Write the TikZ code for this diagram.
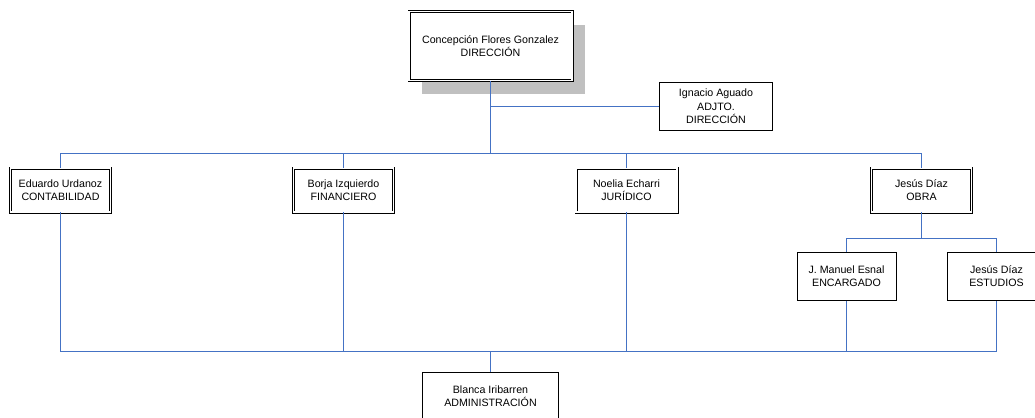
\documentclass[tikz,border=0pt]{standalone}
\usepackage{fontspec}
\setmainfont{Liberation Sans}
\usetikzlibrary{shadows}
\definecolor{linkblue}{RGB}{68,114,196}
\definecolor{shadowgray}{RGB}{192,192,192}
\begin{document}
\begin{tikzpicture}[x=1bp, y=-1bp,
        every node/.style={font=\fontsize{10.7}{13.5}\selectfont, align=center, inner sep=0pt},
        single/.style={draw, line width=1bp, fill=white, minimum height=48bp},
        twin/.style={draw, double, double distance=1.6bp, line width=0.7bp, fill=white, minimum height=44bp},
        link/.style={draw=linkblue, line width=1bp}]
    \useasboundingbox (0,0) rectangle (1035,417);
    \clip (0,0) rectangle (1035,417);
    % boxes
    \node[twin, minimum width=163bp, minimum height=69bp,
          drop shadow={shadow xshift=13bp, shadow yshift=-13bp, opacity=1, fill=shadowgray}]
          (dir) at (490.5,46) {Concepción Flores Gonzalez\\DIRECCIÓN};
    \node[single, minimum width=113bp] (adj) at (716,106.5) {Ignacio Aguado\\ADJTO.\\DIRECCIÓN};
    \node[twin, minimum width=100bp] (cont) at (60.5,190) {Eduardo Urdanoz\\CONTABILIDAD};
    \node[twin, minimum width=100bp] (fin) at (343.5,190) {Borja Izquierdo\\FINANCIERO};
    \node[twin, minimum width=101bp] (jur) at (626.5,190) {Noelia Echarri\\JURÍDICO};
    \node[twin, minimum width=100bp] (obra) at (921.5,190) {Jesús Díaz\\OBRA};
    \node[single, minimum width=99bp] (enc) at (846.5,276) {J. Manuel Esnal\\ENCARGADO};
    \node[single, minimum width=99bp] (est) at (996.5,276) {Jesús Díaz\\ESTUDIOS};
    \node[single, minimum width=136bp] (adm) at (490.5,396) {Blanca Iribarren\\ADMINISTRACIÓN};
    % bus points
    \coordinate (top bus) at (490.5,153.5);
    \coordinate (obra bus) at (921.5,238.5);
    \coordinate (base bus) at (490.5,351.5);
    % connectors
    \draw[link] (dir.south) -- (top bus);
    \draw[link] (adj.west) -| (dir.south);
    \draw[link] (cont.north) |- (top bus) -| (obra.north);
    \foreach \n in {fin, jur}
        \draw[link] (\n.north) -- (\n.north |- top bus);
    \draw[link] (obra.south) -- (obra bus);
    \draw[link] (enc.north) |- (obra bus) -| (est.north);
    \draw[link] (cont.south) |- (base bus) -| (est.south);
    \foreach \n in {fin, jur, enc}
        \draw[link] (\n.south) -- (\n.south |- base bus);
    \draw[link] (adm.north) -- (adm.north |- base bus);
\end{tikzpicture}
\end{document}
